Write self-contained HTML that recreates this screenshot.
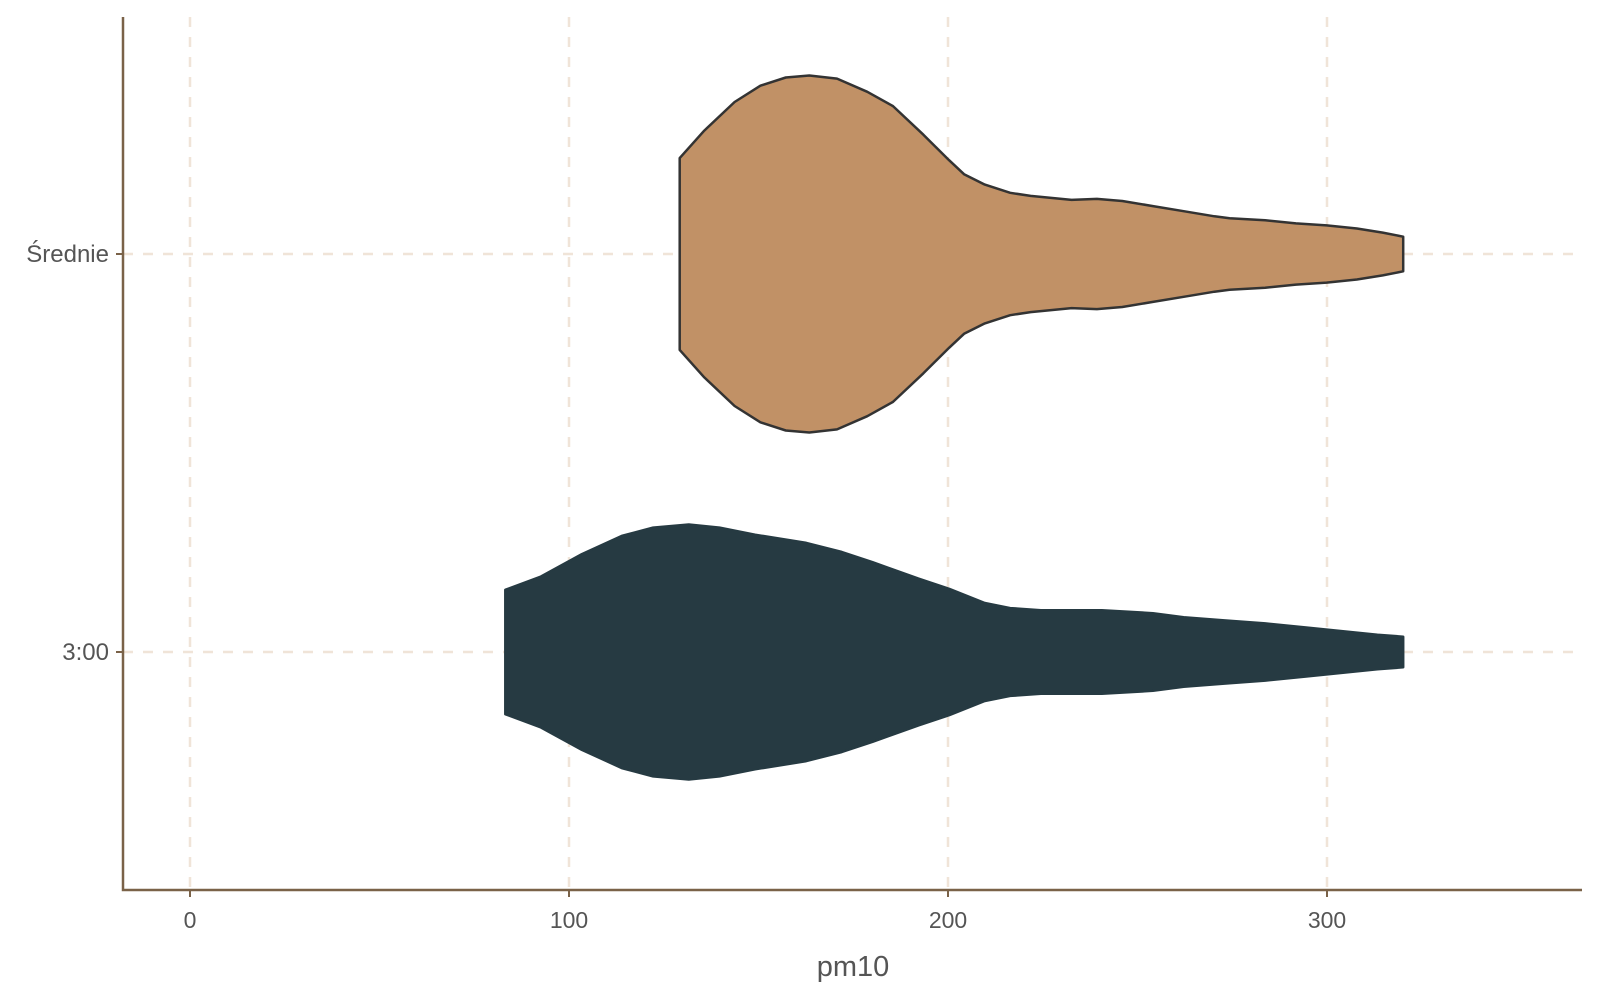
<!DOCTYPE html>
<html><head><meta charset="utf-8"><style>
body{margin:0;background:#fff;}
svg text{font-family:"Liberation Sans",sans-serif;fill:#555;}
</style></head><body>
<svg id="chart" width="1600" height="1000">
<g id="grid"></g>
<g id="violins"></g>
<g id="axes"></g>
<text x="853" y="976" font-size="29" text-anchor="middle">pm10</text>
</svg>
<script>
const categories = ["Średnie", "3:00"];
const xTicks = [0, 100, 200, 300];
const srednieValues = [129.2,135.7,143.7,150.5,157.2,163.4,170.7,178.7,185.5,193.5,200.3,204.3,209.7,216.4,221.8,232.6,239.3,246.0,254.1,262.2,270.3,274.3,283.7,291.8,299.9,307.9,314.7,320.1];
const srednieDensity = [94,121,149,165,173,175,172,159,145,117,92,78,68,60,57,53,54,52,47,42,37,35,33,30,28,25,21,17];
const h3Values = [83.2,92.6,103.4,114.1,122.2,131.6,139.7,149.1,162.6,172.0,180.1,192.2,200.3,209.7,216.4,224.5,240.6,254.1,262.2,272.9,283.7,294.5,305.2,313.3,320.1];
const h3Density = [61,74,96,114,122,125,122,115,107,98,88,72,62,48,43,41,41,38,34,31,28,24,20,17,15];

const NS="http://www.w3.org/2000/svg";
const xs = v => 190 + v*3.79;
const ys = i => [254,652][i];
const dScale = 1.02;
function mk(tag, attrs, parent){const e=document.createElementNS(NS,tag);for(const k in attrs)e.setAttribute(k,attrs[k]);parent.appendChild(e);return e;}
const grid=document.getElementById('grid'), axes=document.getElementById('axes'), vg=document.getElementById('violins');
xTicks.forEach(t=>{
  const l=mk('line',{x1:xs(t),x2:xs(t),y1:17,y2:890,stroke:'#f0e4d8','stroke-width':2.5,'stroke-dasharray':'10,10'},grid);
  
  
  const tk=mk('line',{x1:xs(t),x2:xs(t),y1:890,y2:897,stroke:'#7a6248','stroke-width':2},axes);
  
  
  const tx=mk('text',{x:xs(t),y:928,'font-size':23,'text-anchor':'middle'},axes);
  tx.textContent=t;
  
  
});
categories.forEach((c,i)=>{
  const l=mk('line',{x1:123,x2:1582,y1:ys(i),y2:ys(i),stroke:'#f0e4d8','stroke-width':2.5,'stroke-dasharray':'10,10'},grid);
  
  
  const tk=mk('line',{x1:116,x2:123,y1:ys(i),y2:ys(i),stroke:'#7a6248','stroke-width':2},axes);
  
  
  const tx=mk('text',{x:109,y:ys(i)+8,'font-size':24,'text-anchor':'end'},axes);
  tx.textContent=c;
  
  
});
const ax=mk('path',{d:'M123 17 V890 H1582',fill:'none',stroke:'#7a6248','stroke-width':2.5},axes);


function violin(vals,dens,i,fill,stroke,name){
  let top=vals.map((v,k)=>[xs(v),ys(i)-dens[k]*dScale]);
  let bot=vals.map((v,k)=>[xs(v),ys(i)+dens[k]*dScale]).reverse();
  const d='M'+top.concat(bot).map(p=>p[0].toFixed(1)+','+p[1].toFixed(1)).join(' L')+' Z';
  const p=mk('path',{d:d,fill:fill,stroke:stroke,'stroke-width':2.5,'stroke-linejoin':'round'},vg);
  
  
}
violin(srednieValues,srednieDensity,0,'#c19166','#333','violin-srednie');
violin(h3Values,h3Density,1,'#263a42','#263a42','violin-3-00');
</script>
</body></html>
